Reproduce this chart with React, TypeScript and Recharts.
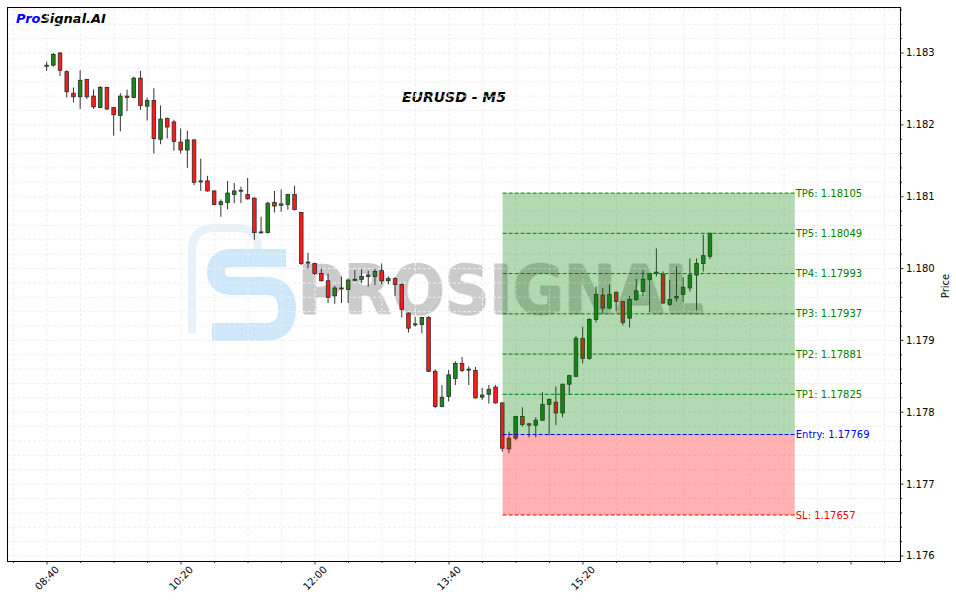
import React from 'react';
import { ComposedChart, Bar, XAxis, YAxis, CartesianGrid, ReferenceArea, ReferenceLine } from 'recharts';

// EURUSD M5 candles, index 0 = 08:40
const opens = [
  1.18282, 1.18283, 1.18300, 1.18274, 1.18244, 1.18239, 1.18263, 1.18240, 1.18224, 1.18252,
  1.18224, 1.18213, 1.18240, 1.18238, 1.18265, 1.18226, 1.18234, 1.18180, 1.18209, 1.18204,
  1.18176, 1.18165, 1.18179, 1.18122, 1.18122, 1.18108, 1.18089, 1.18092, 1.18103, 1.18108,
  1.18103, 1.18098, 1.18051, 1.18050, 1.18092, 1.18088, 1.18089, 1.18103, 1.18078, 1.18008,
  1.18007, 1.17993, 1.17983, 1.17962, 1.17973, 1.17971, 1.17984, 1.17985, 1.17989, 1.17989,
  1.17997, 1.17983, 1.17986, 1.17978, 1.17938, 1.17922, 1.17922, 1.17932, 1.17857, 1.17808,
  1.17822, 1.17847, 1.17868, 1.17859, 1.17858, 1.17821, 1.17825, 1.17835, 1.17813, 1.17749,
  1.17764, 1.17794, 1.17784, 1.17782, 1.17789, 1.17811, 1.17814, 1.17799, 1.17839, 1.17850,
  1.17903, 1.17875, 1.17929, 1.17963, 1.17945, 1.17967, 1.17954, 1.17931, 1.17957, 1.17968,
  1.17985, 1.17993, 1.17992, 1.17950, 1.17959, 1.17964, 1.17973, 1.17991, 1.18007, 1.18017,
];
const highs = [
  1.18288, 1.18300, 1.18301, 1.18276, 1.18252, 1.18276, 1.18264, 1.18249, 1.18254, 1.18253,
  1.18225, 1.18244, 1.18249, 1.18267, 1.18275, 1.18238, 1.18251, 1.18227, 1.18210, 1.18207,
  1.18195, 1.18192, 1.18180, 1.18153, 1.18129, 1.18109, 1.18096, 1.18122, 1.18119, 1.18114,
  1.18126, 1.18099, 1.18072, 1.18093, 1.18108, 1.18110, 1.18104, 1.18115, 1.18079, 1.18022,
  1.18008, 1.18000, 1.17993, 1.17976, 1.17989, 1.17986, 1.17998, 1.17999, 1.17997, 1.18000,
  1.18007, 1.17989, 1.17988, 1.17979, 1.17939, 1.17933, 1.17933, 1.17934, 1.17860, 1.17838,
  1.17859, 1.17871, 1.17877, 1.17864, 1.17863, 1.17834, 1.17838, 1.17838, 1.17814, 1.17773,
  1.17795, 1.17807, 1.17785, 1.17793, 1.17828, 1.17819, 1.17836, 1.17840, 1.17852, 1.17906,
  1.17919, 1.17931, 1.17975, 1.17973, 1.17978, 1.17968, 1.17955, 1.17962, 1.17986, 1.17998,
  1.17994, 1.18028, 1.17996, 1.17984, 1.18003, 1.17988, 1.18014, 1.18014, 1.18047, 1.18050,
];
const lows = [
  1.18275, 1.18281, 1.18268, 1.18238, 1.18231, 1.18222, 1.18236, 1.18222, 1.18223, 1.18221,
  1.18185, 1.18191, 1.18219, 1.18237, 1.18221, 1.18206, 1.18160, 1.18173, 1.18181, 1.18164,
  1.18160, 1.18140, 1.18116, 1.18108, 1.18107, 1.18088, 1.18072, 1.18082, 1.18091, 1.18091,
  1.18096, 1.18040, 1.18049, 1.18049, 1.18078, 1.18079, 1.18082, 1.18081, 1.18005, 1.18000,
  1.17991, 1.17982, 1.17952, 1.17951, 1.17952, 1.17952, 1.17983, 1.17980, 1.17975, 1.17977,
  1.17978, 1.17978, 1.17962, 1.17932, 1.17911, 1.17919, 1.17910, 1.17856, 1.17806, 1.17807,
  1.17815, 1.17838, 1.17856, 1.17838, 1.17819, 1.17817, 1.17812, 1.17812, 1.17745, 1.17743,
  1.17761, 1.17780, 1.17765, 1.17765, 1.17788, 1.17768, 1.17782, 1.17793, 1.17824, 1.17849,
  1.17868, 1.17873, 1.17925, 1.17938, 1.17944, 1.17941, 1.17921, 1.17918, 1.17955, 1.17962,
  1.17939, 1.17989, 1.17951, 1.17948, 1.17954, 1.17953, 1.17968, 1.17942, 1.17996, 1.18013,
];
const closes = [
  1.18283, 1.18298, 1.18276, 1.18246, 1.18239, 1.18262, 1.18239, 1.18225, 1.18252, 1.18222,
  1.18214, 1.18240, 1.18238, 1.18265, 1.18227, 1.18234, 1.18181, 1.18208, 1.18197, 1.18177,
  1.18165, 1.18179, 1.18120, 1.18121, 1.18108, 1.18089, 1.18093, 1.18105, 1.18108, 1.18109,
  1.18097, 1.18050, 1.18050, 1.18091, 1.18087, 1.18090, 1.18103, 1.18082, 1.18007, 1.18009,
  1.17993, 1.17983, 1.17960, 1.17973, 1.17972, 1.17984, 1.17985, 1.17989, 1.17991, 1.17996,
  1.17983, 1.17986, 1.17978, 1.17943, 1.17917, 1.17923, 1.17932, 1.17857, 1.17808, 1.17821,
  1.17852, 1.17868, 1.17858, 1.17860, 1.17820, 1.17824, 1.17832, 1.17813, 1.17750, 1.17764,
  1.17794, 1.17783, 1.17782, 1.17789, 1.17811, 1.17818, 1.17799, 1.17839, 1.17851, 1.17903,
  1.17875, 1.17929, 1.17964, 1.17945, 1.17964, 1.17954, 1.17925, 1.17957, 1.17969, 1.17985,
  1.17993, 1.17995, 1.17952, 1.17957, 1.17961, 1.17974, 1.17991, 1.18007, 1.18018, 1.18049,
];

const timeLabels = ['08:40', '10:20', '12:00', '13:40', '15:20'];
const tpLevels = [1.17825, 1.17881, 1.17937, 1.17993, 1.18049, 1.18105];
const entryPrice = 1.17769;
const slPrice = 1.17657;
const zoneStart = 68;
const zoneEnd = 111.6;

const candles = opens.map((o, i) => ({ i, open: o, high: highs[i], low: lows[i], close: closes[i] }));

const xTicks: number[] = [];
for (let v = -5; v <= 125; v += 5) xTicks.push(v);
const yTicks: number[] = [];
for (let k = 0; k <= 38; k++) yTicks.push(Math.round((1.176 + k * 0.0002) * 10000) / 10000);

const GREEN = '#1a8a1a';
const RED = '#ff1a1a';
const FONT = '"DejaVu Sans", sans-serif';

const Candle = (props: any) => {
  const { x, y, width, height, payload } = props;
  if (x == null || payload == null) return null;
  const top = Math.min(y, y + height);
  const h = Math.abs(height);
  const span = payload.high - payload.low;
  const k = span > 0 ? h / span : 0;
  const yO = top + (payload.high - payload.open) * k;
  const yC = top + (payload.high - payload.close) * k;
  const cx = x + width / 2;
  const up = payload.close >= payload.open;
  const bodyTop = Math.min(yO, yC);
  const bodyH = Math.max(Math.abs(yO - yC), 1);
  return (
    <g>
      <line x1={cx} x2={cx} y1={top} y2={top + h} stroke="#333" strokeWidth={1} />
      <rect x={cx - 1.8} y={bodyTop} width={3.6} height={bodyH} fill={up ? GREEN : RED} stroke="#2a2a2a" strokeWidth={0.8} />
    </g>
  );
};

const XTick = (props: any) => {
  const { x, y, payload } = props;
  const v = payload.value;
  const major = v % 20 === 0;
  const idx = v / 20;
  const label = major && idx >= 0 && idx < timeLabels.length ? timeLabels[idx] : '';
  const ly = y + 17;
  return (
    <g>
      <line x1={x} x2={x} y1={y} y2={y + (major ? 3.5 : 2)} stroke="#000" strokeWidth={0.8} />
      {label && (
        <text x={x} y={ly} transform={`rotate(-45 ${x} ${ly})`} textAnchor="middle" dominantBaseline="central" fontSize={10} fill="#000" fontFamily={FONT}>
          {label}
        </text>
      )}
    </g>
  );
};

const YTick = (props: any) => {
  const { x, y, payload } = props;
  const v = payload.value;
  const major = Math.round(v * 10000) % 10 === 0;
  return (
    <g>
      <line x1={x} x2={x + (major ? 3.5 : 2)} y1={y} y2={y} stroke="#000" strokeWidth={0.8} />
      {major && (
        <text x={x + 6} y={y} dominantBaseline="central" fontSize={10} fill="#000" fontFamily={FONT}>
          {v.toFixed(3)}
        </text>
      )}
    </g>
  );
};

const levelLabel = (text: string, color: string) => ({ value: text, position: 'right' as const, offset: 1, fill: color, fontSize: 10, fontFamily: FONT });

export default function App() {
  return (
    <div style={{ position: 'absolute', left: 0, top: 0, width: 956, height: 603, background: '#fff', fontFamily: FONT }}>
      <svg width={956} height={603} style={{ position: 'absolute', left: 0, top: 0 }}>
        <defs>
          <filter id="wmShadow" x="-5%" y="-5%" width="110%" height="120%">
            <feDropShadow dx={1.5} dy={1.5} stdDeviation={0.6} floodColor="#9a9a9a" floodOpacity={0.6} />
          </filter>
        </defs>
        {/* watermark */}
        <path d="M192,330 L192,250 Q192,228 215,228 L238,228 Q258,228 258,248" fill="none" stroke="#e8f0f8" strokeWidth={8} strokeLinecap="round" />
        <path d="M286,258 L232,258 Q216,258 216,272 Q216,286 232,286 L266,286 Q287,286 287,309 Q287,332 265,332 L212,332" fill="none" stroke="#cde7fb" strokeWidth={18} />
        <text x={297} y={313} fontSize={68} fontWeight="bold" fill="#cbcbcb" textLength={406} lengthAdjust="spacingAndGlyphs" fontFamily={FONT} filter="url(#wmShadow)">PROSIGNAL</text>
        <text x={16} y={23} fontSize={13} fontWeight="bold" fontStyle="italic" fontFamily={FONT}>
          <tspan fill="#0000ff">Pro</tspan>
          <tspan fill="#000">Signal.AI</tspan>
        </text>
        <text x={454} y={102} fontSize={14} fontWeight="bold" fontStyle="italic" textAnchor="middle" fill="#000" fontFamily={FONT}>EURUSD - M5</text>
        <text x={945} y={286} fontSize={10} textAnchor="middle" dominantBaseline="central" transform="rotate(-90 945 286)" fill="#000" fontFamily={FONT}>Price</text>
      </svg>
      <div style={{ position: 'absolute', left: 0, top: 0 }}>
        <ComposedChart width={956} height={603} data={candles} margin={{ top: 8, left: 8, right: 0, bottom: 0 }}>
          <CartesianGrid stroke="#efefef" strokeDasharray="3 2" />
          <XAxis dataKey="i" type="number" domain={[-5.82, 127.31]} allowDataOverflow ticks={xTicks} interval={0} tick={<XTick />} tickLine={false} axisLine={false} tickSize={0} tickMargin={0} height={42} />
          <YAxis orientation="right" type="number" domain={[1.17593, 1.183626]} allowDataOverflow ticks={yTicks} interval={0} tick={<YTick />} tickLine={false} axisLine={false} tickSize={0} tickMargin={0} width={56} />
          <Bar dataKey={(d: any) => [d.low, d.high]} barSize={4} shape={<Candle />} isAnimationActive={false} zIndex={300} />
          <ReferenceArea x1={zoneStart} x2={zoneEnd} y1={entryPrice} y2={tpLevels[5]} fill="#008000" fillOpacity={0.3} stroke="none" zIndex={700} />
          <ReferenceArea x1={zoneStart} x2={zoneEnd} y1={slPrice} y2={entryPrice} fill="#ff0000" fillOpacity={0.3} stroke="none" zIndex={700} />
          {tpLevels.map((v, n) => (
            <ReferenceLine key={v} zIndex={800} segment={[{ x: zoneStart, y: v }, { x: zoneEnd, y: v }]} stroke="#008000" strokeDasharray="4 2" strokeWidth={1} label={levelLabel(`TP${n + 1}: ${v.toFixed(5)}`, '#008000')} />
          ))}
          <ReferenceLine zIndex={800} segment={[{ x: zoneStart, y: entryPrice }, { x: zoneEnd, y: entryPrice }]} stroke="#0000ff" strokeDasharray="4 2" strokeWidth={1} label={levelLabel(`Entry: ${entryPrice.toFixed(5)}`, '#0000ff')} />
          <ReferenceLine zIndex={800} segment={[{ x: zoneStart, y: slPrice }, { x: zoneEnd, y: slPrice }]} stroke="#ff0000" strokeDasharray="4 2" strokeWidth={1} label={levelLabel(`SL: ${slPrice.toFixed(5)}`, '#ff0000')} />
        </ComposedChart>
      </div>
      <svg width={956} height={603} style={{ position: 'absolute', left: 0, top: 0, pointerEvents: 'none' }}>
        <rect x={7.5} y={7.5} width={893} height={554} fill="none" stroke="#000" strokeWidth={1} />
      </svg>
    </div>
  );
}
